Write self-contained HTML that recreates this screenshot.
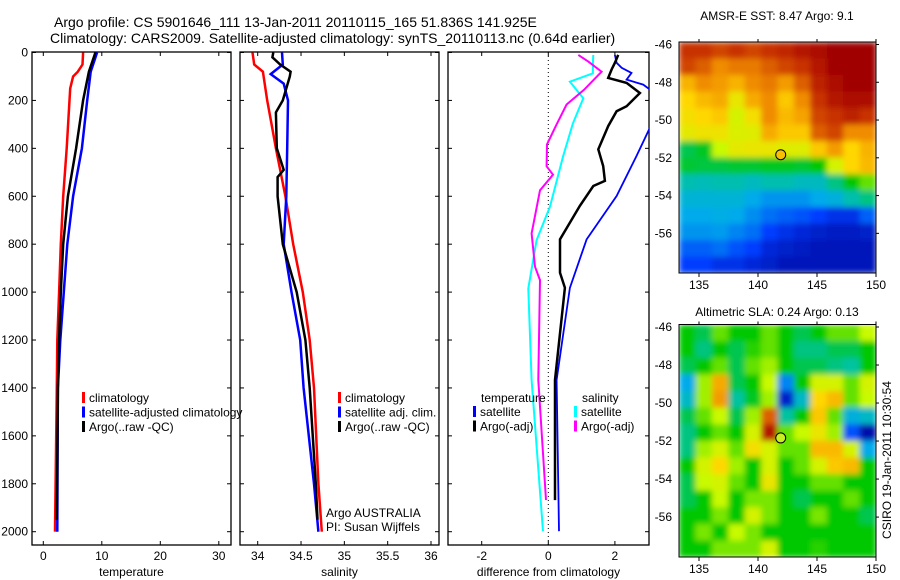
<!DOCTYPE html>
<html><head><meta charset="utf-8"><style>
body{margin:0;background:#fff;}
svg{display:block;font-family:"Liberation Sans",sans-serif;}
</style></head><body>
<svg id="fig" width="900" height="580" viewBox="0 0 900 580">
<rect width="900" height="580" fill="#fff"/>
<text x="54" y="27" font-size="14">Argo profile: CS 5901646_111 13-Jan-2011 20110115_165 51.836S 141.925E</text>
<text x="50" y="43" font-size="14">Climatology: CARS2009. Satellite-adjusted climatology: synTS_20110113.nc (0.64d earlier)</text>
<g id="p1"></g>
<g id="p2"></g>
<g id="p3"></g>
<g id="m1"></g>
<g id="m2"></g>
<text x="777" y="20" font-size="12" text-anchor="middle">AMSR-E SST: 8.47 Argo: 9.1</text>
<text x="777" y="316" font-size="12" text-anchor="middle">Altimetric SLA: 0.24 Argo: 0.13</text>
<text transform="translate(891,460) rotate(-90)" font-size="12" text-anchor="middle">CSIRO 19-Jan-2011 10:30:54</text>
</svg>
<script>
// ---- data ----
const depthTicks=[0,200,400,600,800,1000,1200,1400,1600,1800,2000];
const tempTicks=[0,10,20,30];
const salTicks=[34,34.5,35,35.5,36];
const diffTicks=[-2,0,2];
const tClimD=[0,50,80,100,150,400,600,800,1000,1200,1400,2000];
const tClimV=[6.8,6.7,5.9,5.1,4.6,4.0,3.4,3.0,2.7,2.4,2.3,2.0];
const tArgoD=[0,80,200,400,600,800,1000,1200,1400,1950];
const tArgoV=[8.9,7.8,6.8,5.6,4.2,3.4,3.0,2.7,2.5,2.3];
const tSatD=[0,80,200,400,600,800,1000,1200,1400,2000];
const tSatV=[9.2,8.1,7.5,6.6,5.1,4.1,3.5,2.9,2.5,2.4];
const sClimD=[0,50,80,200,300,400,600,800,1000,1200,1400,1800,2000];
const sClimV=[33.94,33.96,34.06,34.11,34.16,34.21,34.32,34.41,34.52,34.6,34.65,34.7,34.74];
const sArgoD=[0,20,50,80,100,150,200,250,400,490,520,600,800,1000,1200,1400,1800,1950];
const sArgoV=[34.18,34.17,34.26,34.38,34.37,34.33,34.29,34.21,34.22,34.3,34.23,34.23,34.29,34.45,34.55,34.6,34.67,34.69];
const sSatD=[0,50,90,130,200,400,600,800,1000,1200,1400,1800,2000];
const sSatV=[34.28,34.29,34.15,34.3,34.35,34.34,34.33,34.3,34.39,34.49,34.53,34.65,34.7];
const dTSatD=[10,43,64,85,113,134,155,230,314,432,599,780,982,1367,1998];
const dTSatV=[2.0,2.05,2.2,2.5,2.35,2.85,3.05,3.4,3.05,2.65,2.05,1.15,0.65,0.25,0.32];
const dTArgoD=[10,43,71,106,127,169,224,245,307,404,474,536,557,640,780,919,982,1367,1868];
const dTArgoV=[2.1,2.0,1.9,1.8,2.35,2.75,2.35,2.05,1.8,1.5,1.65,1.7,1.35,0.95,0.35,0.35,0.5,0.2,0.2];
const dSSatD=[10,43,87,122,191,296,435,643,783,985,1367,1998];
const dSSatV=[1.35,1.34,1.34,0.65,1.05,0.74,0.44,0.05,-0.35,-0.6,-0.5,-0.16];
const dSArgoD=[10,38,80,156,217,300,383,475,510,575,755,894,950,1367,1868];
const dSArgoV=[0.9,1.2,1.6,1.07,0.55,0.25,-0.04,-0.05,0.14,-0.25,-0.5,-0.4,-0.25,-0.3,-0.07];
const mapLonTicks=[135,140,145,150];
const mapLatTicks=[-46,-48,-50,-52,-54,-56];
const sstGrid=[
[0.9,0.9,0.88,0.9,0.88,0.9,0.92,0.95,0.97,1,1,1],
[0.88,0.85,0.8,0.82,0.82,0.85,0.88,0.9,0.95,1,1,1],
[0.75,0.8,0.78,0.75,0.8,0.82,0.78,0.85,0.93,0.97,1,1],
[0.7,0.74,0.76,0.66,0.76,0.8,0.72,0.8,0.9,0.95,0.97,0.97],
[0.68,0.7,0.72,0.62,0.68,0.8,0.74,0.77,0.88,0.9,0.93,0.9],
[0.65,0.67,0.67,0.63,0.64,0.76,0.72,0.72,0.85,0.88,0.8,0.8],
[0.45,0.48,0.6,0.65,0.66,0.66,0.64,0.64,0.72,0.78,0.7,0.75],
[0.47,0.46,0.46,0.47,0.47,0.48,0.48,0.47,0.5,0.62,0.7,0.74],
[0.38,0.37,0.38,0.38,0.36,0.38,0.38,0.36,0.36,0.42,0.5,0.55],
[0.33,0.33,0.33,0.33,0.3,0.27,0.27,0.27,0.3,0.32,0.38,0.42],
[0.3,0.3,0.31,0.3,0.26,0.22,0.2,0.18,0.15,0.12,0.12,0.2],
[0.27,0.27,0.28,0.25,0.22,0.15,0.12,0.1,0.08,0.07,0.07,0.08],
[0.2,0.2,0.22,0.18,0.15,0.1,0.08,0.07,0.06,0.06,0.06,0.06],
[0.15,0.15,0.12,0.12,0.1,0.08,0.06,0.06,0.06,0.06,0.06,0.06]];
const slaGrid=[
[.5,.45,.55,.5,.5,.55,.5,.45,.5,.55,.55,.6],
[.5,.42,.5,.45,.52,.55,.5,.42,.42,.45,.45,.5],
[.45,.5,.55,.45,.55,.58,.5,.45,.45,.42,.4,.5],
[.3,.58,.76,.45,.5,.6,.25,.5,.62,.62,.55,.62],
[.35,.58,.78,.4,.48,.58,.08,.35,.7,.74,.55,.6],
[.45,.55,.6,.45,.58,.85,.4,.5,.72,.55,.32,.35],
[.42,.5,.55,.5,.62,.95,.55,.6,.66,.58,.18,.04],
[.42,.58,.62,.55,.68,.62,.55,.55,.74,.74,.62,.3],
[.5,.62,.7,.58,.5,.62,.5,.55,.62,.72,.74,.5],
[.45,.6,.62,.55,.5,.66,.5,.5,.55,.55,.5,.5],
[.45,.5,.6,.5,.56,.56,.5,.45,.5,.5,.55,.5],
[.5,.5,.56,.5,.62,.56,.5,.5,.56,.5,.5,.45],
[.5,.56,.5,.6,.56,.5,.5,.5,.5,.5,.5,.5],
[.5,.5,.56,.56,.56,.62,.5,.5,.52,.5,.5,.5]];
const argoLon=141.925, argoLat=-51.836;

const NS="http://www.w3.org/2000/svg";
function mk(parent,tag,attrs){const e=document.createElementNS(NS,tag);for(const k in attrs)e.setAttribute(k,attrs[k]);parent.appendChild(e);return e;}
const Y0=52.5, Ys=0.2396, TOP=52, BOT=545;
const yD=d=>Y0+d*Ys;
function lin(d0,d1,r0,r1){return v=>r0+(v-d0)*(r1-r0)/(d1-d0);}
const svgEl=document.getElementById('fig');
const defs=mk(svgEl,'defs',{});

function panel(g,L,R,xf,ticks,label,labelsY,clipId){
  const cp=mk(defs,'clipPath',{id:clipId});mk(cp,'rect',{x:L,y:TOP,width:R-L,height:BOT-TOP});
  ticks.forEach(t=>{const x=xf(t);
    const a=mk(g,'line',{x1:x,x2:x,y1:BOT,y2:BOT-4,stroke:'#000'});
    
    mk(g,'line',{x1:x,x2:x,y1:TOP,y2:TOP+4,stroke:'#000'});
    const tx=mk(g,'text',{x:x,y:560,'font-size':12,'text-anchor':'middle'});tx.textContent=t;
    });
  depthTicks.forEach(d=>{const y=yD(d);
    mk(g,'line',{x1:L,x2:L+4,y1:y,y2:y,stroke:'#000'});mk(g,'line',{x1:R,x2:R-4,y1:y,y2:y,stroke:'#000'});
    if(labelsY){const tx=mk(g,'text',{x:L-4,y:y+4,'font-size':12,'text-anchor':'end'});tx.textContent=d;
      }});
  const fr=mk(g,'rect',{x:L,y:TOP,width:R-L,height:BOT-TOP,fill:'none',stroke:'#000','stroke-width':1.3});
  
  const xl=mk(g,'text',{x:(L+R)/2,y:576,'font-size':12,'text-anchor':'middle'});xl.textContent=label;
  
}
function series(g,D,V,xf,color,w,name,clipId){
  const pts=D.map((d,i)=>xf(V[i]).toFixed(1)+','+yD(d).toFixed(1)).join(' ');
  const p=mk(g,'polyline',{points:pts,fill:'none',stroke:color,'stroke-width':w,'clip-path':'url(#'+clipId+')'});
  
}
function legend(g,x,y,items){
  items.forEach((it,i)=>{const yy=y+i*14.5;
    mk(g,'rect',{x:x,y:yy-10,width:3,height:11,fill:it[1]});
    const t=mk(g,'text',{x:x+7,y:yy,'font-size':12});t.textContent=it[0];
    });
}
// panel 1
const g1=document.getElementById('p1'), x1=lin(0,10,43.3,101.8);
panel(g1,32,231,x1,tempTicks,'temperature',true,'c1');
series(g1,tClimD,tClimV,x1,'#f00',2.5,'climatology-line','c1');
series(g1,tSatD,tSatV,x1,'#00f',2.5,'satellite-line','c1');
series(g1,tArgoD,tArgoV,x1,'#000',2.5,'argo-line','c1');
legend(g1,82,402,[['climatology','#f00'],['satellite-adjusted climatology','#00f'],['Argo(..raw -QC)','#000']]);
// panel 2
const g2=document.getElementById('p2'), x2=lin(34,36,257.7,431);
panel(g2,240,439,x2,salTicks,'salinity',false,'c2');
series(g2,sClimD,sClimV,x2,'#f00',2.5,'climatology-line','c2');
series(g2,sSatD,sSatV,x2,'#00f',2.5,'satellite-line','c2');
series(g2,sArgoD,sArgoV,x2,'#000',2.5,'argo-line','c2');
legend(g2,338,402,[['climatology','#f00'],['satellite adj. clim.','#00f'],['Argo(..raw -QC)','#000']]);
const ta=mk(g2,'text',{x:326,y:517,'font-size':12});ta.textContent='Argo AUSTRALIA';

const tb=mk(g2,'text',{x:326,y:531,'font-size':12});tb.textContent='PI: Susan Wijffels';

// panel 3
const g3=document.getElementById('p3'), x3=lin(0,2,548.3,614.9);
panel(g3,448,649,x3,diffTicks,'difference from climatology',false,'c3');
const zl=mk(g3,'line',{x1:x3(0),x2:x3(0),y1:TOP,y2:BOT,stroke:'#000','stroke-dasharray':'1,3'});

series(g3,dTSatD,dTSatV,x3,'#00f',1.8,'temp-satellite-diff','c3');
series(g3,dTArgoD,dTArgoV,x3,'#000',2.5,'temp-argo-diff','c3');
series(g3,dSSatD,dSSatV,x3,'#0ff',2,'sal-satellite-diff','c3');
series(g3,dSArgoD,dSArgoV,x3,'#f0f',2,'sal-argo-diff','c3');
const lt=mk(g3,'text',{x:481,y:402,'font-size':12});lt.textContent='temperature';

legend(g3,473,416,[['satellite','#00f'],['Argo(-adj)','#000']]);
const ls=mk(g3,'text',{x:582,y:402,'font-size':12});ls.textContent='salinity';

legend(g3,574,416,[['satellite','#0ff'],['Argo(-adj)','#f0f']]);
// maps
const stops=[[0,[0,0,140]],[0.15,[0,60,255]],[0.3,[0,170,235]],[0.4,[0,195,160]],[0.5,[0,200,0]],[0.6,[200,250,0]],[0.7,[255,215,0]],[0.8,[240,140,0]],[0.9,[200,50,0]],[1,[160,0,0]]];
function cmap(v){v=Math.max(0,Math.min(1,v));
  for(let i=1;i<stops.length;i++){if(v<=stops[i][0]){const a=stops[i-1],b=stops[i],f=(v-a[0])/(b[0]-a[0]);
    const c=a[1].map((x,k)=>Math.round(x+(b[1][k]-x)*f));return 'rgb('+c.join(',')+')';}}
  return 'rgb(160,0,0)';}
function map(g,T,B,grid,name,circFill,fid){
  const L=679,R=876, lonf=lin(135,150,699,876), latf=lin(-46,-56,T+2.5,T+2.5+10*(B-T-2.5)/12.1);
  const rows=grid.length, cols=grid[0].length, cw=(R-L)/cols, ch=(B-T)/rows;
  const f=mk(defs,'filter',{id:fid,filterUnits:'userSpaceOnUse',x:L,y:T,width:R-L,height:B-T});
  mk(f,'feGaussianBlur',{stdDeviation:2.8,edgeMode:'duplicate'});
  const cells=mk(g,'g',{filter:'url(#'+fid+')'});
  grid.forEach((row,i)=>row.forEach((v,j)=>{
    const r=mk(cells,'rect',{x:(L+j*cw).toFixed(2),y:(T+i*ch).toFixed(2),width:(cw+0.6).toFixed(2),height:(ch+0.6).toFixed(2),fill:cmap(v)});
    }));
  mk(g,'rect',{x:L,y:T,width:R-L,height:B-T,fill:'none',stroke:'#000'});
  mapLonTicks.forEach(t=>{const x=lonf(t);mk(g,'line',{x1:x,x2:x,y1:B,y2:B+4,stroke:'#000'});mk(g,'line',{x1:x,x2:x,y1:T,y2:T-3,stroke:'#000'});
    const tx=mk(g,'text',{x:x,y:B+16,'font-size':12,'text-anchor':'middle'});tx.textContent=t;
    });
  mapLatTicks.forEach(t=>{const y=latf(t);mk(g,'line',{x1:R,x2:R+3,y1:y,y2:y,stroke:'#000'});
    const tx=mk(g,'text',{x:L-7,y:y+4,'font-size':12,'text-anchor':'end'});tx.textContent=t;
    });
  const c=mk(g,'circle',{cx:lonf(argoLon),cy:latf(argoLat),r:5,fill:circFill,stroke:'#000'});
  
}
map(document.getElementById('m1'),42,273,sstGrid,'sst','#f8c000','blur1');
map(document.getElementById('m2'),324.5,557,slaGrid,'sla','#c8f020','blur2');
</script>
</body></html>
